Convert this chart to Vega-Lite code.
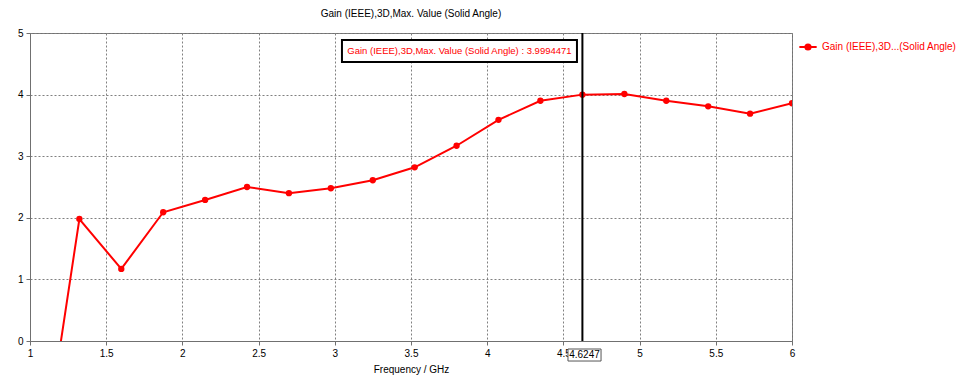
{
  "$schema": "https://vega.github.io/schema/vega-lite/v6.json",
  "width": 762,
  "height": 308,
  "autosize": "none",
  "padding": {"left": 30, "top": 33, "right": 168, "bottom": 38},
  "background": "white",
  "config": {
    "font": "Liberation Sans",
    "view": {"stroke": "#707070", "strokeWidth": 1},
    "axis": {
      "labelFont": "Liberation Sans",
      "labelFontSize": 10,
      "labelColor": "#000000",
      "titleFont": "Liberation Sans",
      "titleFontSize": 10,
      "titleFontWeight": "normal",
      "titleColor": "#000000",
      "domainColor": "#707070",
      "tickColor": "#707070",
      "tickSize": 4,
      "gridColor": "#808080",
      "gridDash": [2, 2],
      "gridOpacity": 1,
      "gridWidth": 1
    }
  },
  "title": {
    "text": "Gain (IEEE),3D,Max. Value (Solid Angle)",
    "font": "Liberation Sans",
    "fontSize": 10,
    "fontWeight": "normal",
    "color": "#000000",
    "anchor": "middle",
    "offset": 9
  },
  "layer": [
    {
      "data": {
        "values": [
          {"f": 1.049, "g": -2.52, "series": "Gain (IEEE),3D...(Solid Angle)"},
          {"f": 1.324, "g": 1.98, "series": "Gain (IEEE),3D...(Solid Angle)"},
          {"f": 1.599, "g": 1.17, "series": "Gain (IEEE),3D...(Solid Angle)"},
          {"f": 1.874, "g": 2.09, "series": "Gain (IEEE),3D...(Solid Angle)"},
          {"f": 2.149, "g": 2.29, "series": "Gain (IEEE),3D...(Solid Angle)"},
          {"f": 2.424, "g": 2.50, "series": "Gain (IEEE),3D...(Solid Angle)"},
          {"f": 2.699, "g": 2.40, "series": "Gain (IEEE),3D...(Solid Angle)"},
          {"f": 2.974, "g": 2.48, "series": "Gain (IEEE),3D...(Solid Angle)"},
          {"f": 3.249, "g": 2.61, "series": "Gain (IEEE),3D...(Solid Angle)"},
          {"f": 3.524, "g": 2.82, "series": "Gain (IEEE),3D...(Solid Angle)"},
          {"f": 3.799, "g": 3.17, "series": "Gain (IEEE),3D...(Solid Angle)"},
          {"f": 4.074, "g": 3.59, "series": "Gain (IEEE),3D...(Solid Angle)"},
          {"f": 4.349, "g": 3.90, "series": "Gain (IEEE),3D...(Solid Angle)"},
          {"f": 4.6247, "g": 3.9994471, "series": "Gain (IEEE),3D...(Solid Angle)"},
          {"f": 4.900, "g": 4.01, "series": "Gain (IEEE),3D...(Solid Angle)"},
          {"f": 5.175, "g": 3.90, "series": "Gain (IEEE),3D...(Solid Angle)"},
          {"f": 5.450, "g": 3.81, "series": "Gain (IEEE),3D...(Solid Angle)"},
          {"f": 5.725, "g": 3.69, "series": "Gain (IEEE),3D...(Solid Angle)"},
          {"f": 6.0, "g": 3.86, "series": "Gain (IEEE),3D...(Solid Angle)"}
        ]
      },
      "mark": {"type": "line", "strokeWidth": 2, "clip": true, "point": {"filled": true, "size": 40}},
      "encoding": {
        "x": {
          "field": "f", "type": "quantitative",
          "scale": {"domain": [1, 6], "nice": false, "zero": false},
          "axis": {"values": [1, 1.5, 2, 2.5, 3, 3.5, 4, 4.5, 5, 5.5, 6], "format": "~g", "title": "Frequency / GHz", "titlePadding": 6, "labelPadding": 3, "labelFlush": false}
        },
        "y": {
          "field": "g", "type": "quantitative",
          "scale": {"domain": [0, 5], "nice": false},
          "axis": {"values": [0, 0.5, 1, 1.5, 2, 2.5, 3, 3.5, 4, 4.5, 5], "format": "~g", "title": null, "labelPadding": 3}
        },
        "color": {
          "field": "series", "type": "nominal",
          "scale": {"range": ["#ff0000"]},
          "legend": {
            "title": null,
            "orient": "none",
            "legendX": 768,
            "legendY": 4,
            "symbolType": "M-1,0H1M0.3,0A0.3,0.3 0 1,1 -0.3,0A0.3,0.3 0 1,1 0.3,0Z",
            "symbolSize": 300,
            "symbolStrokeWidth": 2,
            "symbolFillColor": "#ff0000",
            "symbolStrokeColor": "#ff0000",
            "labelColor": "#ff0000",
            "labelFontSize": 10,
            "labelFont": "Liberation Sans",
            "labelLimit": 300
          }
        }
      }
    },
    {
      "data": {"values": [{}]},
      "mark": {"type": "rule", "color": "#000000", "strokeWidth": 2},
      "encoding": {"x": {"datum": 4.6247}}
    },
    {
      "data": {"values": [{}]},
      "mark": {"type": "rect", "fill": "#ffffff", "stroke": "#000000", "strokeWidth": 2},
      "encoding": {
        "x": {"datum": 3.047}, "x2": {"datum": 4.589},
        "y": {"datum": 4.886}, "y2": {"datum": 4.529}
      }
    },
    {
      "data": {"values": [{}]},
      "mark": {"type": "text", "color": "#ff0000", "fontSize": 9.5, "font": "Liberation Sans", "align": "center", "baseline": "middle"},
      "encoding": {
        "x": {"datum": 3.818}, "y": {"datum": 4.707},
        "text": {"value": "Gain (IEEE),3D,Max. Value (Solid Angle) : 3.9994471"}
      }
    },
    {
      "data": {"values": [{}]},
      "mark": {"type": "rect", "fill": "#ffffff", "stroke": "#555555", "strokeWidth": 1},
      "encoding": {
        "x": {"datum": 4.530}, "x2": {"datum": 4.747},
        "y": {"datum": -0.13}, "y2": {"datum": -0.325}
      }
    },
    {
      "data": {"values": [{}]},
      "mark": {"type": "text", "color": "#000000", "fontSize": 10, "font": "Liberation Sans", "align": "center", "baseline": "middle"},
      "encoding": {
        "x": {"datum": 4.6385}, "y": {"datum": -0.228},
        "text": {"value": "4.6247"}
      }
    }
  ]
}
